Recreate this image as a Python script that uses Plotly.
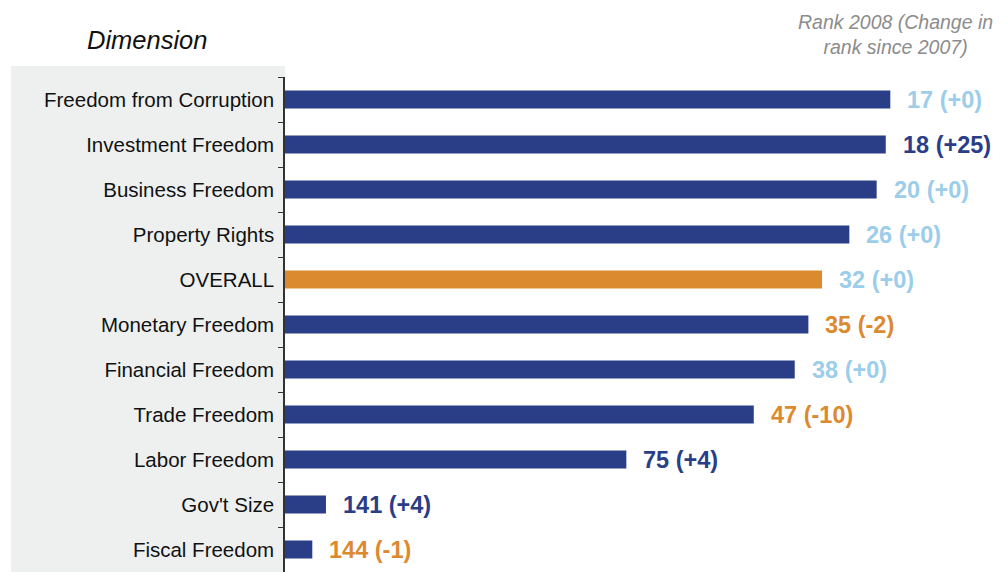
import plotly.graph_objects as go

# data
dimensions = ["Freedom from Corruption", "Investment Freedom", "Business Freedom",
              "Property Rights", "OVERALL", "Monetary Freedom", "Financial Freedom",
              "Trade Freedom", "Labor Freedom", "Gov't Size", "Fiscal Freedom"]
bar_values = [133, 132, 130, 124, 118, 115, 112, 103, 75, 9, 6]
rank_2008 = [17, 18, 20, 26, 32, 35, 38, 47, 75, 141, 144]
rank_change = [0, 25, 0, 0, 0, -2, 0, -10, 4, 4, -1]

NAVY = "#2a3e87"
ORANGE = "#dc8a2f"
LIGHT_BLUE = "#9ccdea"
FONT = "Liberation Sans, Arial, sans-serif"

bar_colors = [ORANGE if d == "OVERALL" else NAVY for d in dimensions]


def label_color(ch):
    if ch > 0:
        return NAVY
    if ch < 0:
        return ORANGE
    return LIGHT_BLUE


fig = go.Figure(go.Bar(
    x=bar_values,
    y=dimensions,
    orientation="h",
    marker=dict(color=bar_colors, line=dict(width=0)),
    width=0.4,
    hoverinfo="skip",
))

for d, v, r, ch in zip(dimensions, bar_values, rank_2008, rank_change):
    fig.add_annotation(
        x=v, y=d, xref="x", yref="y",
        text="<b>%d (%+d)</b>" % (r, ch),
        showarrow=False, xanchor="left", xshift=15,
        font=dict(family=FONT, size=23.5, color=label_color(ch)),
    )

# gray panel behind the dimension labels
fig.add_shape(type="rect", xref="paper", yref="paper",
              x0=-0.3806, x1=0, y0=-0.02, y1=1.0222,
              fillcolor="#edf0ef", line=dict(width=0), layer="below")

fig.add_annotation(xref="paper", yref="paper", x=-0.1917, y=1.0747,
                   text="<i>Dimension</i>", showarrow=False,
                   xanchor="center", yanchor="middle",
                   font=dict(family=FONT, size=25.5, color="#111111"))
fig.add_annotation(xref="paper", yref="paper", x=0.8486, y=1.0859,
                   text="<i>Rank 2008 (Change in<br>rank since 2007)</i>",
                   showarrow=False, xanchor="center", yanchor="middle",
                   align="center",
                   font=dict(family=FONT, size=19.5, color="#8c8c8c"))

fig.update_xaxes(range=[0, 158.2], visible=False, fixedrange=True)
fig.update_yaxes(
    autorange="reversed",
    showline=True, linecolor="#333333", linewidth=1.5,
    ticks="outside", tickson="boundaries", ticklen=5, tickcolor="#333333",
    ticklabelstandoff=5,
    tickfont=dict(family=FONT, size=20.5, color="#111111"),
    showgrid=False, zeroline=False,
)

# page body adds an 8px margin, so the figure is 8px smaller each way
fig.update_layout(
    width=997, height=564,
    margin=dict(l=277, r=0, t=69, b=0),
    plot_bgcolor="white", paper_bgcolor="white",
    showlegend=False,
)

fig.write_html("out.html")
